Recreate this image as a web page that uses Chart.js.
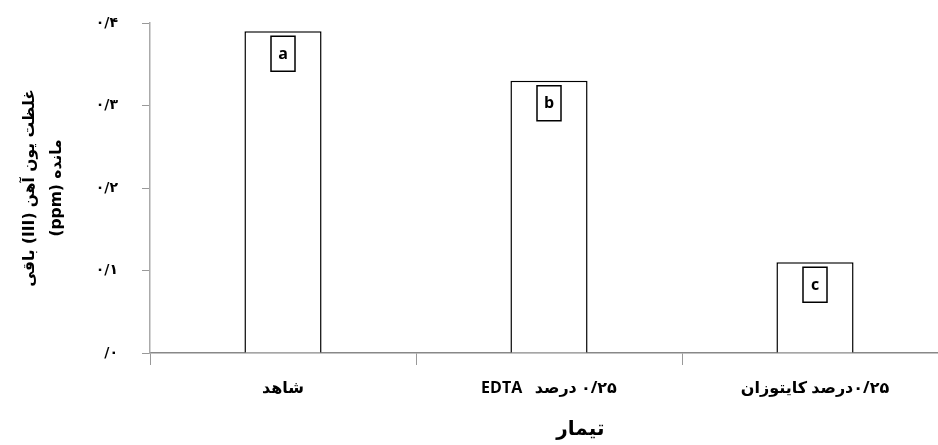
<!DOCTYPE html>
<html>
<head>
<meta charset="utf-8">
<script src="https://cdn.jsdelivr.net/npm/chart.js@4/dist/chart.umd.min.js"></script>
<style>
	html, body { margin: 0; padding: 0; background: #fff; overflow: hidden; }
	#wrap { width: 948px; height: 445px; }
	canvas { display: block; direction: rtl; }
</style>
</head>
<body>
<div id="wrap"><canvas id="iron-chart" width="948" height="445"></canvas></div>
<script>
"use strict";
// treatments and residual iron (III) values
const treatments = ['شاهد', '۰/۲۵ درصد   EDTA', '۰/۲۵درصد کایتوزان'];
const ironValues = [0.39, 0.33, 0.11];
const groupLetters = ['a', 'b', 'c'];
// persian tick labels for 0, 0.1 ... 0.4
const yTickLabels = ['۰/', '۰/۱', '۰/۲', '۰/۳', '۰/۴'];
const yTitle = ['غلظت یون آهن (III) باقی', 'مانده (ppm)'];
const xTitle = 'تیمار';

// boxed letters inside top of each bar
const letterBoxes = {
	id : 'letterBoxes',
	afterDatasetsDraw : function(chart) {
		let ctx = chart.ctx;
		let meta = chart.getDatasetMeta(0);
		ctx.save();
		ctx.strokeStyle = '#000';
		ctx.lineWidth = 1.5;
		ctx.fillStyle = '#000';
		ctx.font = 'bold 16px "Open Sans", "DejaVu Sans", sans-serif';
		ctx.textAlign = 'center';
		ctx.textBaseline = 'middle';
		meta.data.forEach(function(bar, i) {
			let top = bar.y + 5;
			ctx.strokeRect(bar.x - 12, top, 24, 35);
			ctx.fillText(groupLetters[i], bar.x, top + 18);
		});
		ctx.restore();
	}
};

let ctx = document.getElementById('iron-chart');
let ironChart = new Chart(ctx, {
	type : 'bar',
	data : {
		labels : treatments,
		datasets : [
			{
				data : ironValues,
				backgroundColor : '#fff',
				borderColor : '#000',
				borderWidth : 1.5,
				barPercentage : 0.29,
				categoryPercentage : 1
			}
		]
	},
	options : {
		responsive : false,
		animation : false,
		layout : { padding : 0 },
		plugins : {
			legend : { display : false },
			tooltip : { enabled : false }
		},
		scales : {
			x : {
				grid : { drawOnChartArea : false, tickLength : 12, color : '#999' },
				border : { color : '#888', width : 1.5 },
				ticks : {
					padding : 14,
					color : '#000',
					font : { family : '"Open Sans", "DejaVu Sans", sans-serif', size : 16, weight : 'bold' }
				},
				title : {
					display : true,
					// trailing spaces push the title a bit right like the original
					text : xTitle + '\u00A0'.repeat(9),
					color : '#000',
					padding : { top : 0, bottom : 3 },
					font : { family : '"DejaVu Sans", sans-serif', size : 20, weight : 'bold' }
				},
				afterFit : function(scale) { scale.height = 92; }
			},
			y : {
				min : 0,
				max : 0.4,
				grid : { drawOnChartArea : false, tickLength : 8, color : '#999' },
				border : { color : '#aaa', width : 1.5 },
				ticks : {
					stepSize : 0.1,
					padding : 24,
					color : '#000',
					font : { family : '"DejaVu Sans", sans-serif', size : 14, weight : 'bold' },
					callback : function(v) { return yTickLabels[Math.round(v * 10)]; }
				},
				title : {
					display : true,
					text : yTitle,
					color : '#000',
					padding : { top : 16, bottom : 0 },
					font : { family : '"DejaVu Sans", sans-serif', size : 15.5, weight : 'bold', lineHeight : 1.75 }
				},
				afterFit : function(scale) {
					scale.width = 150;
					scale.paddingTop = 23;
				}
			}
		}
	},
	plugins : [letterBoxes]
});
</script>
</body>
</html>
